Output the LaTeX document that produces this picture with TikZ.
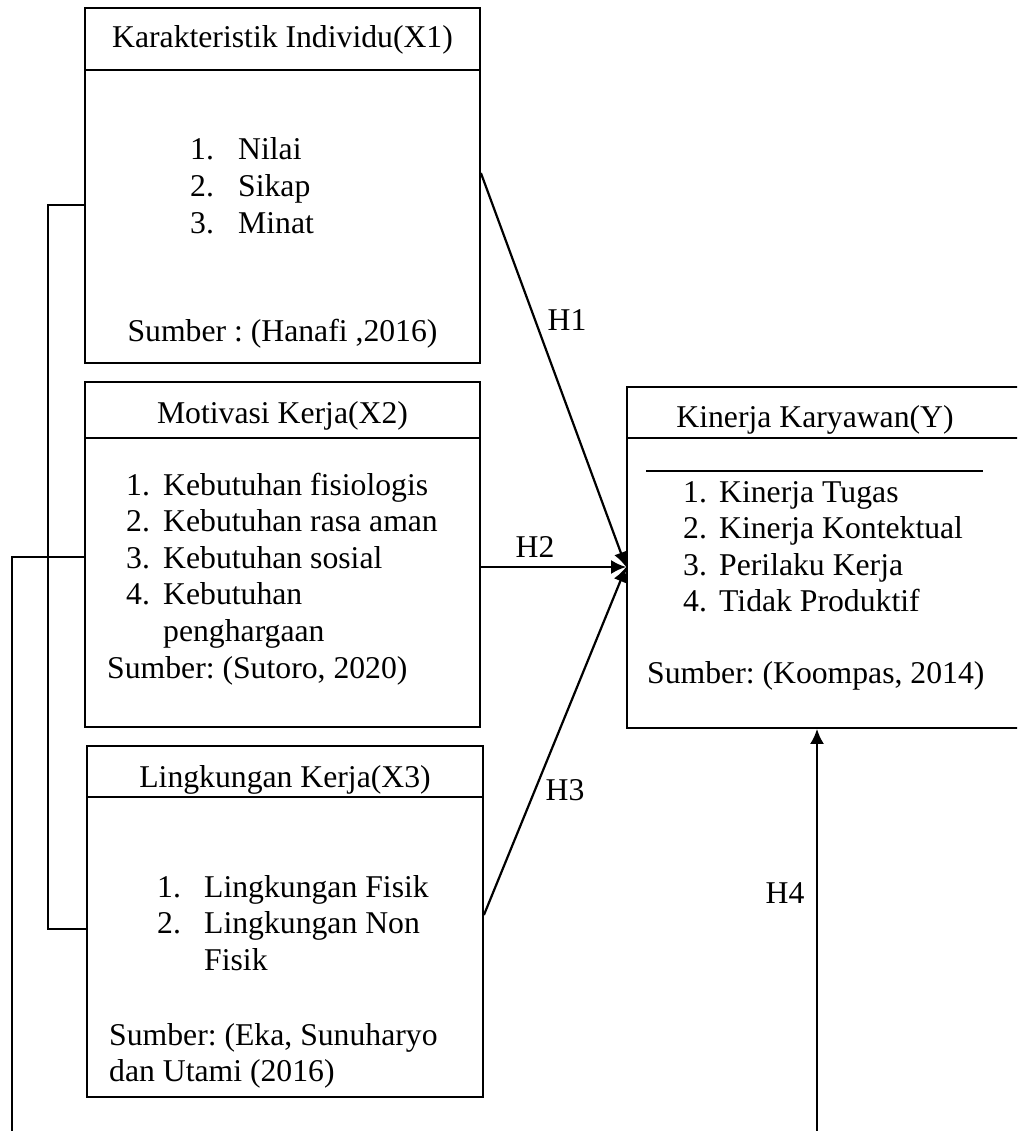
\documentclass[tikz,border=0pt]{standalone}
\usepackage{fontspec}
\setmainfont{Liberation Serif}
\frenchspacing
\usetikzlibrary{arrows.meta}
\tikzset{
  box/.style={draw,rectangle,line width=1.8pt,inner sep=0pt},
  txt/.style={inner sep=0pt,font=\fontsize{31.7}{36.6}\selectfont},
  lst/.style={txt,anchor=base west,align=left},
  hyp/.style={-{Latex[length=15pt,width=14pt]},line width=2.2pt},
  brk/.style={line width=1.8pt}
}
\newcommand{\nomor}[2]{\makebox[#1pt][l]{#2}}
\begin{document}
\begin{tikzpicture}[x=1pt,y=-1pt]
        \useasboundingbox (0,0) rectangle (1017,1131);
        \clip (0,0) rectangle (1017,1131);

        % kotak variabel
        \node[box,minimum width=395pt,minimum height=355pt] (x1) at (282.5,185.5) {};
        \node[box,minimum width=395pt,minimum height=345pt] (x2) at (282.5,554.5) {};
        \node[box,minimum width=396pt,minimum height=351pt] (x3) at (285,921.5) {};
        \node[box,minimum width=398pt,minimum height=341pt] (y) at (826,557.5) {};
        \draw[brk] (x1.north west) ++(0,63) -- ++(397,0);
        \draw[brk] (x2.north west) ++(0,57) -- ++(397,0);
        \draw[brk] (x3.north west) ++(0,52) -- ++(396,0);
        \draw[brk] (y.north west) ++(0,52) -- ++(398,0);
        \draw[line width=1.2pt] (646,471) -- (983,471);

        % X1 (base = baris terakhir)
        \node[txt,anchor=base] (t1) at (282.5,48) {Karakteristik Individu(X1)};
        \node[lst] (l1) at (190,233.2) {\nomor{48}{1.}Nilai\\\nomor{48}{2.}Sikap\\\nomor{48}{3.}Minat};
        \node[txt,anchor=base] (s1) at (282.5,341) {Sumber : (Hanafi ,2016)};

        % X2
        \node[txt,anchor=base] (t2) at (282.5,423) {Motivasi Kerja(X2)};
        \node[lst] (l2) at (126,641.4) {\nomor{37}{1.}Kebutuhan fisiologis\\\nomor{37}{2.}Kebutuhan rasa aman\\\nomor{37}{3.}Kebutuhan sosial\\\nomor{37}{4.}Kebutuhan\\\nomor{37}{}penghargaan};
        \node[lst] (s2) at (107,678) {Sumber: (Sutoro, 2020)};

        % X3
        \node[txt,anchor=base] (t3) at (285,787) {Lingkungan Kerja(X3)};
        \node[lst] (l3) at (157,970.2) {\nomor{47}{1.}Lingkungan Fisik\\\nomor{47}{2.}Lingkungan Non\\\nomor{47}{}Fisik};
        \node[lst] (s3) at (109,1081.6) {Sumber: (Eka, Sunuharyo\\dan Utami (2016)};

        % Y
        \node[txt,anchor=base] (ty) at (815,427) {Kinerja Karyawan(Y)};
        \node[lst] (ly) at (683,611.8) {\nomor{36}{1.}Kinerja Tugas\\\nomor{36}{2.}Kinerja Kontektual\\\nomor{36}{3.}Perilaku Kerja\\\nomor{36}{4.}Tidak Produktif};
        \node[lst] (sy) at (647,683) {Sumber: (Koompas, 2014)};

        % hipotesis
        \draw[hyp] ([yshift=12.5pt]x1.east) -- ([yshift=-9.5pt]y.west);
        \draw[hyp] ([yshift=-12.5pt]x2.east) -- ([yshift=-9.5pt]y.west);
        \draw[hyp] ([yshift=6.5pt]x3.east) -- ([yshift=-9.5pt]y.west);
        \coordinate (b4) at (817,1131);
        \draw[hyp] (b4) -- (b4 |- y.south);
        \node[txt] (h1) at (567,320) {H1};
        \node[txt] (h2) at (535,547) {H2};
        \node[txt] (h3) at (565,790) {H3};
        \node[txt] (h4) at (785,893) {H4};

        % garis kiri
        \coordinate (brk) at (48,557);
        \coordinate (b0) at (12,1131);
        \draw[brk] ([yshift=-19.5pt]x1.west) -| (brk) |- ([yshift=-7.5pt]x3.west);
        \draw[brk] (brk) -- ([yshift=-2.5pt]x2.west);
        \draw[brk] (b0) |- (brk);
\end{tikzpicture}
\end{document}
